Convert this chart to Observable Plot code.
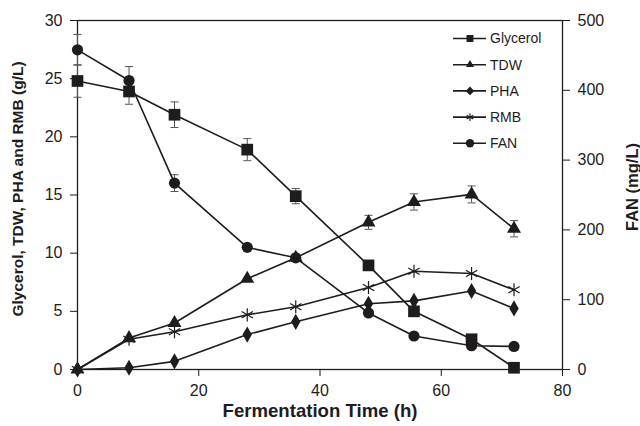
<!DOCTYPE html>
<html>
<head>
<meta charset="utf-8">
<script src="https://cdn.jsdelivr.net/npm/d3@7"></script>
<script src="https://cdn.jsdelivr.net/npm/@observablehq/plot@0.6"></script>
<style>
  html, body { margin: 0; padding: 0; background: #fff; }
  #wrap { position: relative; width: 640px; height: 426px; font-family: "Liberation Sans", Arial, sans-serif; }
  #legend { position: absolute; left: 0; top: 0; }
</style>
</head>
<body>
<div id="wrap"></div>
<script>
// ---- data ----
const time = [0, 8.5, 16, 28, 36, 48, 55.5, 65, 72];
const glycerol    = [24.8, 23.9, 21.9, 18.9, 14.9, 8.95, 5.0, 2.6, 0.15];
const glycerolErr = [1.4, 1.1, 1.1, 0.95, 0.65, 0, 0, 0, 0];
const tdw    = [0, 2.7, 4.0, 7.8, 9.6, 12.65, 14.4, 15.05, 12.1];
const tdwErr = [0, 0, 0, 0, 0, 0.6, 0.7, 0.73, 0.7];
const pha = [0, 0.15, 0.7, 3.0, 4.1, 5.65, 5.9, 6.75, 5.25];
const rmb = [0, 2.6, 3.25, 4.7, 5.4, 7.05, 8.45, 8.25, 6.85];
const fan    = [458, 414, 267, 175, 160, 81, 48, 34, 33];   // mg/L (right axis)
const fanErr = [22, 20, 12, 4, 0, 0, 0, 0, 0];
const leftTicks  = [0, 5, 10, 15, 20, 25, 30];
const rightTicks = [0, 100, 200, 300, 400, 500];
const xTicks = [0, 20, 40, 60, 80];
const seriesNames = ["Glycerol", "TDW", "PHA", "RMB", "FAN"];
const seriesSymbols = ["square", "triangle", "diamond", "asterisk", "circle"];

// ---- build table ----
const fanScale = 30 / 500; // right axis mapped onto left axis units
const rows = [];
const addSeries = (name, vals, errs, k = 1) => vals.forEach((v, i) => rows.push({
  series: name, t: time[i], v: v * k, e: errs ? errs[i] * k : 0
}));
addSeries("Glycerol", glycerol, glycerolErr);
addSeries("TDW", tdw, tdwErr);
addSeries("PHA", pha, null);
addSeries("RMB", rmb, null);
addSeries("FAN", fan, fanErr, fanScale);
const errRows = rows.filter(d => d.e > 0);

const ink = "#1e1c1d";
const errInk = "#555";
const capSymbol = { draw(ctx, size) { const w = 4; ctx.moveTo(-w, 0); ctx.lineTo(w, 0); } };
const symR = { Glycerol: 6.6, TDW: 5.2, PHA: 4.9, RMB: 6.2, FAN: 5.6 };
const font = "Liberation Sans, Arial, sans-serif";

const marks = [
  Plot.frame({ stroke: ink, strokeWidth: 1.3 }),
  Plot.axisX(xTicks, { tickSize: 7, tickPadding: 8, fontSize: 16, stroke: ink, label: null }),
  Plot.axisY(leftTicks, { anchor: "left", tickSize: 7, tickPadding: 8, fontSize: 16, stroke: ink, label: null }),
  Plot.axisY(rightTicks.map(v => v * fanScale), { anchor: "right", tickSize: 7, tickPadding: 8, fontSize: 16, stroke: ink, label: null,
    tickFormat: d => String(Math.round(d / fanScale)) }),
  // error bars
  Plot.ruleX(errRows, { x: "t", y1: d => d.v - d.e, y2: d => d.v + d.e, stroke: errInk, strokeWidth: 1 }),
  Plot.dot(errRows, { x: "t", y: d => d.v + d.e, symbol: capSymbol, stroke: errInk, strokeWidth: 1, fill: "none" }),
  Plot.dot(errRows, { x: "t", y: d => d.v - d.e, symbol: capSymbol, stroke: errInk, strokeWidth: 1, fill: "none" }),
  // lines
  ...seriesNames.map(s => Plot.line(rows.filter(d => d.series === s), { x: "t", y: "v", stroke: ink, strokeWidth: 1.6 })),
  // markers
  ...seriesNames.map((s, i) => Plot.dot(rows.filter(d => d.series === s), {
    x: "t", y: "v", symbol: seriesSymbols[i], r: symR[s],
    fill: seriesSymbols[i] === "asterisk" ? "none" : ink,
    stroke: ink, strokeWidth: seriesSymbols[i] === "asterisk" ? 1.2 : 0
  })),
  // axis titles
  Plot.text(["Glycerol, TDW, PHA and RMB (g/L)"], { frameAnchor: "left", textAnchor: "middle", dx: -59, dy: -6, rotate: -90, fontSize: 15.5, fontWeight: "bold", fill: ink }),
  Plot.text(["FAN (mg/L)"], { frameAnchor: "right", textAnchor: "middle", dx: 70, dy: -8, rotate: -90, fontSize: 16.5, fontWeight: "bold", fill: ink }),
  Plot.text(["Fermentation Time (h)"], { frameAnchor: "bottom", textAnchor: "middle", dy: 47, fontSize: 18.6, fontWeight: "bold", fill: ink })
];

const chart = Plot.plot({
  width: 640, height: 426,
  marginLeft: 77, marginRight: 78, marginTop: 20, marginBottom: 57,
  style: { fontFamily: font, color: ink, background: "#fff", overflow: "visible" },
  x: { domain: [0, 80] },
  y: { domain: [0, 30] },
  marks
});
const wrap = document.getElementById("wrap");
wrap.appendChild(chart);

// ---- legend (inside the plot, top right) ----
const leg = d3.select(wrap).append("svg").attr("id", "legend")
  .attr("width", 640).attr("height", 426).style("pointer-events", "none");
const symMap = { square: d3.symbolSquare, triangle: d3.symbolTriangle2, diamond: d3.symbolDiamond2, asterisk: d3.symbolAsterisk, circle: d3.symbolCircle };
seriesNames.forEach((name, i) => {
  const y = 38.5 + i * 26.2;
  const g = leg.append("g").attr("transform", `translate(0,${y})`);
  g.append("line").attr("x1", 453).attr("x2", 486).attr("stroke", ink).attr("stroke-width", 1.6);
  const sym = seriesSymbols[i];
  const area = sym === "asterisk" ? 40 : (sym === "circle" ? 55 : 48);
  g.append("path").attr("transform", "translate(470,0)")
    .attr("d", d3.symbol(symMap[sym], area)())
    .attr("fill", sym === "asterisk" ? "none" : ink)
    .attr("stroke", ink).attr("stroke-width", sym === "asterisk" ? 1.1 : 0);
  g.append("text").attr("x", 490).attr("dy", "0.35em").attr("font-size", 14)
    .attr("font-family", font).attr("fill", ink).text(name);
});
</script>
</body>
</html>
